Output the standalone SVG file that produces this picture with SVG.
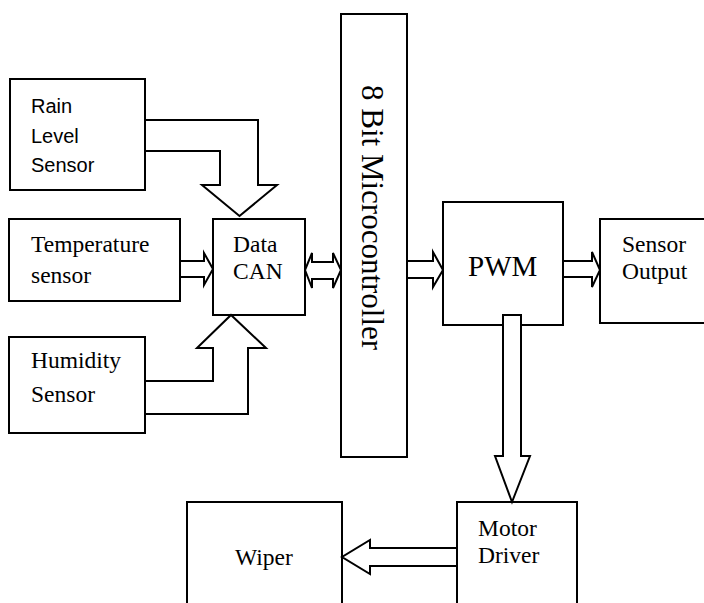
<svg xmlns="http://www.w3.org/2000/svg" width="704" height="603" viewBox="0 0 704 603">
  <style>
    .box { fill: #ffffff; stroke: #000000; stroke-width: 2; }
    .flow { fill: #ffffff; stroke: #000000; stroke-width: 2; stroke-linejoin: miter; }
    .serif { font-family: "Liberation Serif", "Times New Roman", serif; font-size: 23.5px; fill: #000000; }
    .sans { font-family: "Liberation Sans", Arial, sans-serif; font-size: 20px; fill: #000000; }
    .big { font-size: 29px; }
    .vert { font-size: 31px; }
  </style>
  <rect width="704" height="603" fill="#ffffff"/>

  <g id="rain-level-sensor">
    <rect class="box" x="10" y="79" width="135" height="111"/>
    <text class="sans" x="31" y="113">Rain</text>
    <text class="sans" x="31" y="143">Level</text>
    <text class="sans" x="31" y="172">Sensor</text>
  </g>

  <g id="temperature-sensor">
    <rect class="box" x="9" y="219" width="171" height="82"/>
    <text class="serif" x="31" y="252">Temperature</text>
    <text class="serif" x="31" y="283">sensor</text>
  </g>

  <g id="humidity-sensor">
    <rect class="box" x="9" y="337" width="136" height="96"/>
    <text class="serif" x="31" y="368">Humidity</text>
    <text class="serif" x="31" y="402">Sensor</text>
  </g>

  <g id="data-can">
    <rect class="box" x="213" y="219" width="92" height="96"/>
    <text class="serif" x="233" y="252">Data</text>
    <text class="serif" x="233" y="279">CAN</text>
  </g>

  <g id="microcontroller">
    <rect class="box" x="341" y="14" width="66" height="443"/>
    <text class="serif vert" transform="translate(362,85) rotate(90)">8 Bit Microcontroller</text>
  </g>

  <g id="pwm">
    <rect class="box" x="443" y="202" width="120" height="123"/>
    <text class="serif big" x="468" y="276">PWM</text>
  </g>

  <g id="sensor-output">
    <rect class="box" x="600" y="219" width="110" height="104"/>
    <text class="serif" x="622" y="252">Sensor</text>
    <text class="serif" x="622" y="279">Output</text>
  </g>

  <g id="motor-driver">
    <rect class="box" x="457" y="502" width="120" height="110"/>
    <text class="serif" x="478" y="536">Motor</text>
    <text class="serif" x="478" y="563">Driver</text>
  </g>

  <g id="wiper">
    <rect class="box" x="187" y="502" width="155" height="110"/>
    <text class="serif" x="235" y="565">Wiper</text>
  </g>

  <g id="connectors">
    <!-- rain level sensor to data CAN -->
    <path class="flow" d="M145,120 H258 V185 H277 L239.5,216 L202,185 H220 V151 H145 Z"/>
    <!-- temperature sensor to data CAN -->
    <path class="flow" d="M180,261 H204 V253 L213,269 L204,285 V277 H180 Z"/>
    <!-- humidity sensor to data CAN -->
    <path class="flow" d="M145,381 H213 V348 H197 L231,315 L266,348 H248 V414 H145 Z"/>
    <!-- data CAN to microcontroller, both ways -->
    <path class="flow" d="M305,270 L312,253 V262 H333 V253 L341,270 L333,288 V279 H312 V288 Z"/>
    <!-- microcontroller to PWM -->
    <path class="flow" d="M407,261 H433 V252 L443,270 L433,287 V278 H407 Z"/>
    <!-- PWM to sensor output -->
    <path class="flow" d="M563,261 H592 V252 L600,270 L592,287 V277 H563 Z"/>
    <!-- PWM to motor driver -->
    <path class="flow" d="M503,315 H521 V456 H530 L512,502 L495,456 H503 Z"/>
    <!-- motor driver to wiper -->
    <path class="flow" d="M457,548 H370 V540 L342,557 L370,574 V566 H457 Z"/>
  </g>
</svg>
